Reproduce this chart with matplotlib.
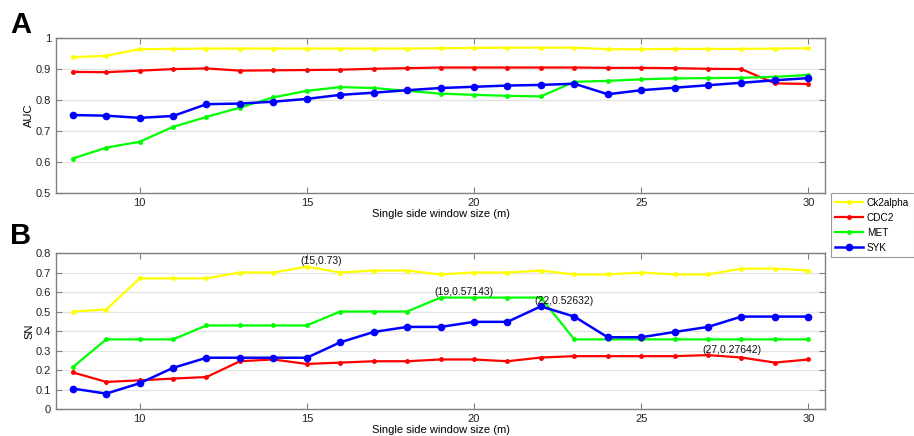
import matplotlib
matplotlib.use("Agg")
import matplotlib.pyplot as plt

plt.rcParams['font.family'] = ['Liberation Sans', 'DejaVu Sans']

x = list(range(8, 31))
series_names = ["Ck2alpha", "CDC2", "MET", "SYK"]
colors = ["#FFFF00", "#FF0000", "#00FF00", "#0000FF"]

auc_ck2 = [0.937, 0.942, 0.963, 0.964, 0.965, 0.965, 0.965, 0.965, 0.965, 0.965, 0.965, 0.966,
           0.967, 0.968, 0.968, 0.968, 0.963, 0.963, 0.964, 0.964, 0.964, 0.965, 0.966]
auc_cdc2 = [0.890, 0.889, 0.894, 0.899, 0.901, 0.894, 0.895, 0.896, 0.897, 0.900, 0.902, 0.904,
            0.904, 0.904, 0.904, 0.904, 0.903, 0.903, 0.902, 0.900, 0.899, 0.853, 0.851]
auc_met = [0.611, 0.646, 0.665, 0.713, 0.745, 0.775, 0.808, 0.829, 0.841, 0.838, 0.829, 0.820,
           0.816, 0.813, 0.811, 0.858, 0.861, 0.866, 0.869, 0.870, 0.871, 0.874, 0.880]
auc_syk = [0.751, 0.749, 0.742, 0.748, 0.786, 0.788, 0.794, 0.803, 0.816, 0.823, 0.831, 0.838,
           0.842, 0.846, 0.848, 0.852, 0.818, 0.831, 0.839, 0.847, 0.855, 0.863, 0.870]

sn_ck2 = [0.50, 0.51, 0.67, 0.67, 0.67, 0.70, 0.70, 0.73, 0.70, 0.71, 0.71, 0.69,
          0.70, 0.70, 0.71, 0.69, 0.69, 0.70, 0.69, 0.69, 0.72, 0.72, 0.71]
sn_cdc2 = [0.188, 0.139, 0.147, 0.156, 0.164, 0.245, 0.254, 0.231, 0.238, 0.245, 0.245, 0.254,
           0.254, 0.245, 0.264, 0.271, 0.271, 0.271, 0.271, 0.27642, 0.264, 0.238, 0.254]
sn_met = [0.2143, 0.3571, 0.3571, 0.3571, 0.4286, 0.4286, 0.4286, 0.4286, 0.5, 0.5, 0.5, 0.57143,
          0.57143, 0.57143, 0.57143, 0.3571, 0.3571, 0.3571, 0.3571, 0.3571, 0.3571, 0.3571, 0.3571]
sn_syk = [0.105, 0.079, 0.132, 0.211, 0.263, 0.263, 0.263, 0.263, 0.342, 0.395, 0.421, 0.421,
          0.447, 0.447, 0.52632, 0.474, 0.368, 0.368, 0.395, 0.421, 0.474, 0.474, 0.474]

annotations = [(15, 0.73, "(15,0.73)"), (19, 0.57143, "(19,0.57143)"),
               (22, 0.52632, "(22,0.52632)"), (27, 0.27642, "(27,0.27642)")]

fig = plt.figure(figsize=(9.14, 4.36), dpi=100)
axA = fig.add_axes([0.0613, 0.5573, 0.8414, 0.3562])
axB = fig.add_axes([0.0613, 0.0619, 0.8414, 0.3578])

def style(ax, ylim, yticks, ylabels, ylabel):
    ax.set_xlim(7.5, 30.5)
    ax.set_ylim(*ylim)
    ax.set_xticks([10, 15, 20, 25, 30])
    ax.set_yticks(yticks)
    ax.set_yticklabels(ylabels)
    ax.grid(axis='y', color='#e3e3e3', linewidth=0.9)
    ax.set_axisbelow(True)
    ax.tick_params(direction='in', top=True, right=True, labelsize=8, length=4,
                   color='#808080', labelcolor='#222222')
    for s in ax.spines.values():
        s.set_color('#808080')
        s.set_linewidth(1.0)
    ax.set_xlabel("Single side window size (m)", fontsize=8, labelpad=1)
    ax.set_ylabel(ylabel, fontsize=8, labelpad=1)

def plot_series(ax, data):
    handles = []
    for name, col, vals in zip(series_names, colors, data):
        if name == "SYK":
            h, = ax.plot(x, vals, color=col, lw=1.8, marker='o', ms=4.5, label=name)
        else:
            h, = ax.plot(x, vals, color=col, lw=1.6, marker='.', ms=5, label=name)
        handles.append(h)
    return handles

handles = plot_series(axA, [auc_ck2, auc_cdc2, auc_met, auc_syk])
style(axA, (0.5, 1.0), [0.5, 0.6, 0.7, 0.8, 0.9, 1.0],
      ["0.5", "0.6", "0.7", "0.8", "0.9", "1"], "AUC")

plot_series(axB, [sn_ck2, sn_cdc2, sn_met, sn_syk])
style(axB, (0, 0.8), [0, 0.1, 0.2, 0.3, 0.4, 0.5, 0.6, 0.7, 0.8],
      ["0", "0.1", "0.2", "0.3", "0.4", "0.5", "0.6", "0.7", "0.8"], "SN")

for xv, yv, txt in annotations:
    axB.text(xv - 0.18, yv + 0.003, txt, fontsize=7.5, ha='left', va='bottom', color='#111111')

fig.text(0.011, 0.975, "A", fontsize=21, fontweight='bold', va='top', ha='left')
fig.text(0.011, 0.49, "B", fontsize=21, fontweight='bold', va='top', ha='left')

leg = fig.legend(handles, series_names, loc='upper left', bbox_to_anchor=(0.909, 0.557),
                 fontsize=7.2, frameon=True, fancybox=False, edgecolor='#808080',
                 handlelength=2.8, borderpad=0.45, labelspacing=0.5, handletextpad=0.35,
                 borderaxespad=0)
leg.get_frame().set_linewidth(0.8)

fig.savefig("out.png", dpi=100)
